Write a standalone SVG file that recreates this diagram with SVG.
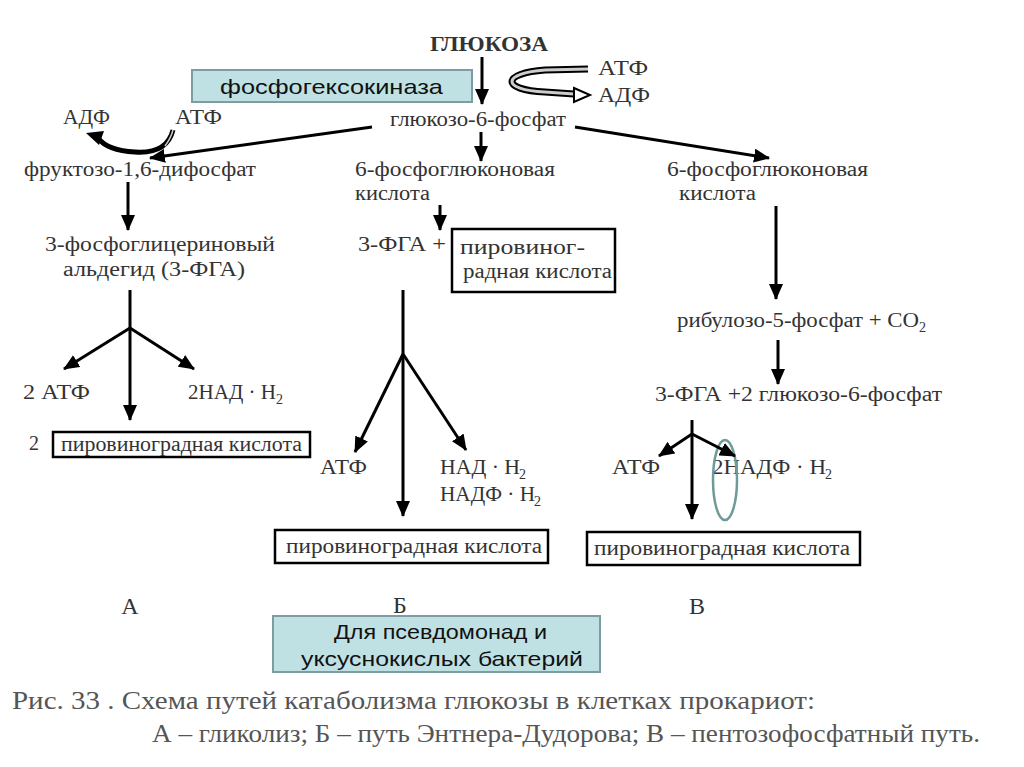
<svg xmlns="http://www.w3.org/2000/svg" width="1024" height="767" viewBox="0 0 1024 767">
<style>
.t{font-family:"Liberation Serif","Times New Roman",serif;font-size:20px;fill:#333}
.sub{font-family:"Liberation Serif","Times New Roman",serif;font-size:14px;fill:#333}
.s{font-family:"Liberation Sans",Arial,sans-serif;font-size:21px;fill:#111}
.ln{stroke:#000;stroke-width:3;fill:none}
.box{fill:#fff;stroke:#000;stroke-width:2.5}
.blue{fill:#bfe1e4;stroke:#7f9ca2;stroke-width:2}
.cap{font-family:"Liberation Serif","Times New Roman",serif;font-size:25px;fill:#555}
.big{font-family:"Liberation Serif","Times New Roman",serif;font-size:24px;fill:#333}
</style>
<defs>
<marker id="ah" markerUnits="userSpaceOnUse" markerWidth="16" markerHeight="14" refX="15" refY="7" orient="auto">
<path d="M0,0 L16,7 L0,14 Z" fill="#000"/>
</marker>
</defs>
<rect width="1024" height="767" fill="#fff"/>

<g id="glucose"><text x="430" y="51" class="t" style="font-weight:bold;font-size:20px" textLength="118" lengthAdjust="spacingAndGlyphs">ГЛЮКОЗА</text></g>
<g id="hexokinase"><rect x="192" y="70" width="280" height="32" class="blue"/><text x="220" y="94" class="s" textLength="223" lengthAdjust="spacingAndGlyphs">фосфогексокиназа</text></g>
<g id="atp-top"><text x="598" y="75" class="t" textLength="50" lengthAdjust="spacingAndGlyphs">АТФ</text><text x="598" y="102" class="t" textLength="52" lengthAdjust="spacingAndGlyphs">АДФ</text></g>
<g id="g6p"><text x="390" y="126" class="t" textLength="176" lengthAdjust="spacingAndGlyphs">глюкозо-6-фосфат</text></g>
<g id="adp-atp-left"><text x="63" y="124" class="t" textLength="47" lengthAdjust="spacingAndGlyphs">АДФ</text><text x="175" y="124" class="t" textLength="47" lengthAdjust="spacingAndGlyphs">АТФ</text></g>
<g id="f16"><text x="24" y="176" class="t" textLength="232" lengthAdjust="spacingAndGlyphs">фруктозо-1,6-дифосфат</text></g>
<g id="pg-mid"><text x="355" y="176" class="t" textLength="200" lengthAdjust="spacingAndGlyphs">6-фосфоглюконовая</text><text x="355" y="200" class="t" textLength="75" lengthAdjust="spacingAndGlyphs">кислота</text></g>
<g id="pg-right"><text x="667" y="176" class="t" textLength="201" lengthAdjust="spacingAndGlyphs">6-фосфоглюконовая</text><text x="679" y="200" class="t" textLength="77" lengthAdjust="spacingAndGlyphs">кислота</text></g>
<g id="pga-left"><text x="45" y="251" class="t" textLength="230" lengthAdjust="spacingAndGlyphs">3-фосфоглицериновый</text><text x="63" y="276" class="t" textLength="182" lengthAdjust="spacingAndGlyphs">альдегид (3-ФГА)</text></g>
<g id="pga-mid"><text x="358" y="251" class="t" textLength="88" lengthAdjust="spacingAndGlyphs">3-ФГА +</text><rect x="452" y="229" width="163" height="63" class="box"/><text x="460" y="254" class="t" textLength="125" lengthAdjust="spacingAndGlyphs">пировиног-</text><text x="463" y="278" class="t" textLength="149" lengthAdjust="spacingAndGlyphs">радная кислота</text></g>
<g id="ribulose"><text x="677" y="327" class="t" textLength="242" lengthAdjust="spacingAndGlyphs">рибулозо-5-фосфат + СО</text><text x="919" y="332" class="sub">2</text></g>
<g id="pga-right"><text x="655" y="401" class="t" textLength="287" lengthAdjust="spacingAndGlyphs">3-ФГА +2 глюкозо-6-фосфат</text></g>
<g id="prod-left"><text x="23" y="399" class="t" textLength="67" lengthAdjust="spacingAndGlyphs">2 АТФ</text><text x="188" y="399" class="t" textLength="88" lengthAdjust="spacingAndGlyphs">2НАД · Н</text><text x="276" y="404" class="sub">2</text></g>
<g id="pyr-left"><text x="29" y="450" class="t">2</text><rect x="53" y="432" width="257" height="25" class="box"/><text x="61" y="451" class="t" textLength="241" lengthAdjust="spacingAndGlyphs">пировиноградная кислота</text></g>
<g id="prod-mid"><text x="440" y="474" class="t" textLength="80" lengthAdjust="spacingAndGlyphs">НАД · Н</text><text x="519" y="479" class="sub">2</text><text x="320" y="474" class="t" textLength="47" lengthAdjust="spacingAndGlyphs">АТФ</text><text x="440" y="501" class="t" textLength="95" lengthAdjust="spacingAndGlyphs">НАДФ · Н</text><text x="534" y="506" class="sub">2</text></g>
<g id="pyr-mid"><rect x="275" y="530" width="273" height="33" class="box"/><text x="286" y="553" class="t" textLength="256" lengthAdjust="spacingAndGlyphs">пировиноградная кислота</text></g>
<g id="prod-right"><text x="612" y="474" class="t" textLength="48" lengthAdjust="spacingAndGlyphs">АТФ</text><text x="712" y="474" class="t" textLength="114" lengthAdjust="spacingAndGlyphs">2НАДФ · Н</text><text x="825" y="479" class="sub">2</text><ellipse cx="725" cy="480" rx="12" ry="40" fill="none" stroke="#6e9a9a" stroke-width="2.5"/></g>
<g id="pyr-right"><rect x="587" y="532" width="273" height="33" class="box"/><text x="594" y="555" class="t" textLength="256" lengthAdjust="spacingAndGlyphs">пировиноградная кислота</text></g>
<g id="labels"><text x="130" y="614" class="big" text-anchor="middle">А</text><text x="400" y="613" class="big" text-anchor="middle">Б</text><text x="697" y="614" class="big" text-anchor="middle">В</text></g>
<g id="pseudo"><rect x="273" y="616" width="327" height="56" class="blue"/><text x="334" y="639" class="s" textLength="213" lengthAdjust="spacingAndGlyphs">Для псевдомонад и</text><text x="301" y="666" class="s" textLength="282" lengthAdjust="spacingAndGlyphs">уксуснокислых бактерий</text></g>
<g id="caption"><text x="12" y="709" class="cap" textLength="803" lengthAdjust="spacingAndGlyphs">Рис. 33 . Схема путей катаболизма глюкозы в клетках прокариот:</text><text x="152" y="742" class="cap" textLength="828" lengthAdjust="spacingAndGlyphs">А – гликолиз; Б – путь Энтнера-Дудорова; В – пентозофосфатный путь.</text></g>

<g id="connectors">
<line x1="482" y1="57" x2="482" y2="104" class="ln" marker-end="url(#ah)"/>
<path d="M588,69 L545,70 C502,73 500,90 545,92 L574,94" fill="none" stroke="#000" stroke-width="7"/>
<path d="M588,69 L545,70 C502,73 500,90 545,92 L574,94" fill="none" stroke="#ccc" stroke-width="3"/>
<path d="M574,88 L590,95 L574,102 Z" fill="#fff" stroke="#000" stroke-width="2"/>
<line x1="372" y1="127" x2="150" y2="158" class="ln" marker-end="url(#ah)"/>
<path d="M173,130 C168,150 150,153 135,152 C115,151 104,146 98,138" fill="none" stroke="#000" stroke-width="5"/>
<path d="M173,130 C171,138 168,142 165,146" fill="none" stroke="#ccc" stroke-width="1.5"/>
<path d="M86,133 L104,131 L99,145 Z" fill="#000"/>
<line x1="481" y1="132" x2="481" y2="161" class="ln" marker-end="url(#ah)"/>
<line x1="575" y1="127" x2="769" y2="158" class="ln" marker-end="url(#ah)"/>
<line x1="128" y1="182" x2="128" y2="230" class="ln" marker-end="url(#ah)"/>
<line x1="440" y1="205" x2="440" y2="230" class="ln" marker-end="url(#ah)"/>
<line x1="776" y1="206" x2="776" y2="299" class="ln" marker-end="url(#ah)"/>
<line x1="130" y1="290" x2="130" y2="420" class="ln" marker-end="url(#ah)"/>
<line x1="130" y1="328" x2="64" y2="369" class="ln" marker-end="url(#ah)"/>
<line x1="130" y1="328" x2="194" y2="369" class="ln" marker-end="url(#ah)"/>
<line x1="403" y1="290" x2="403" y2="516" class="ln" marker-end="url(#ah)"/>
<line x1="403" y1="354" x2="355" y2="452" class="ln" marker-end="url(#ah)"/>
<line x1="403" y1="354" x2="466" y2="450" class="ln" marker-end="url(#ah)"/>
<line x1="778" y1="340" x2="778" y2="384" class="ln" marker-end="url(#ah)"/>
<line x1="692" y1="420" x2="692" y2="519" class="ln" marker-end="url(#ah)"/>
<line x1="692" y1="434" x2="659" y2="456" class="ln" marker-end="url(#ah)"/>
<line x1="692" y1="434" x2="735" y2="456" class="ln" marker-end="url(#ah)"/>
</g>
</svg>
